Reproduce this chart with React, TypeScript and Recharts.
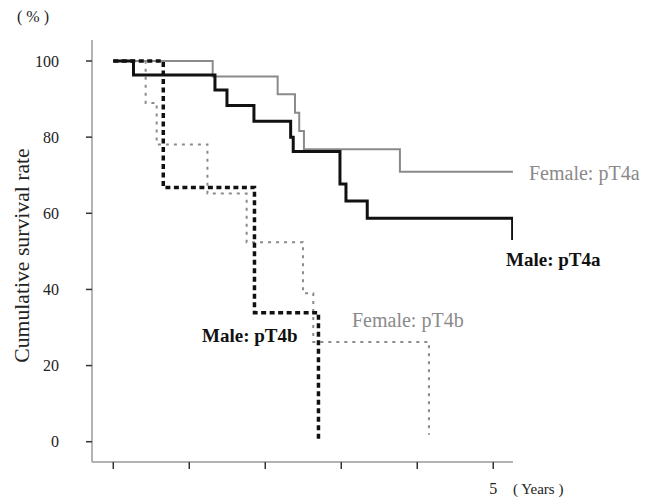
import React from 'react';
import { LineChart, Line, XAxis, YAxis } from 'recharts';

// Kaplan–Meier step data (years, cumulative survival %)
const maleT4aYears = [0, 0.266, 1.338, 1.496, 1.851, 2.334, 2.368, 2.983, 3.062, 3.342, 5.255];
const maleT4aSurvival = [100, 96.3, 92.4, 88.3, 84.2, 80.0, 76.2, 67.7, 63.2, 58.7, 53.0];

const femaleT4aYears = [0, 1.308, 2.163, 2.391, 2.447, 2.509, 3.772, 5.259];
const femaleT4aSurvival = [100, 95.9, 91.25, 86.4, 81.6, 76.8, 70.9, 70.9];

const maleT4bYears = [0, 0.658, 1.858, 2.7];
const maleT4bSurvival = [100, 66.8, 33.9, 0];

const femaleT4bYears = [0, 0.426, 0.571, 1.239, 1.755, 2.496, 2.632, 4.154];
const femaleT4bSurvival = [100, 89.0, 78.1, 65.2, 52.4, 39.0, 26.2, 1.8];

const xTicks = [0, 1, 2, 3, 4, 5];
const xTickLabels = ['', '', '', '', '', '5'];
const yTicks = [0, 20, 40, 60, 80, 100];

const seriesLabels = {
  femaleT4a: 'Female: pT4a',
  maleT4a: 'Male: pT4a',
  maleT4b: 'Male: pT4b',
  femaleT4b: 'Female: pT4b',
};

const toPoints = (years: number[], surv: number[]) =>
  years.map((t, i) => ({ t, s: surv[i] }));

const FONT = '"Liberation Serif", "Times New Roman", serif';
const GRAY = '#8a8a8a';

export default function App() {
  return (
    <div style={{ position: 'absolute', left: 0, top: 0 }}>
      <LineChart
        width={656}
        height={497}
        margin={{ top: 40, right: 143, left: 0, bottom: 0 }}
        style={{ fontFamily: FONT }}
      >
        <XAxis
          dataKey="t"
          type="number"
          domain={[-0.28, 5.26]}
          allowDataOverflow
          ticks={xTicks}
          interval={0}
          tickFormatter={(v: number) => xTickLabels[xTicks.indexOf(v)] ?? ''}
          tickSize={7}
          tickMargin={14}
          height={35}
          axisLine={{ stroke: '#9a9a9a', strokeWidth: 1.5 }}
          tickLine={{ stroke: '#333', strokeWidth: 1.5 }}
          tick={{ fontSize: 16, fill: '#222', fontFamily: FONT }}
        />
        <YAxis
          type="number"
          domain={[-5.33, 105.52]}
          allowDataOverflow
          ticks={yTicks}
          interval={0}
          width={92}
          tickSize={6}
          tickMargin={27}
          axisLine={{ stroke: '#9a9a9a', strokeWidth: 1.5 }}
          tickLine={{ stroke: '#333', strokeWidth: 1.5 }}
          tick={{ fontSize: 16, fill: '#222', fontFamily: FONT }}
        />
        <Line
          data={toPoints(femaleT4aYears, femaleT4aSurvival)}
          dataKey="s"
          type="stepAfter"
          stroke={GRAY}
          strokeWidth={2}
          dot={false}
          isAnimationActive={false}
        />
        <Line
          data={toPoints(femaleT4bYears, femaleT4bSurvival)}
          dataKey="s"
          type="stepAfter"
          stroke={GRAY}
          strokeWidth={2}
          strokeDasharray="3 5"
          dot={false}
          isAnimationActive={false}
        />
        <Line
          data={toPoints(maleT4aYears, maleT4aSurvival)}
          dataKey="s"
          type="stepAfter"
          stroke="#111"
          strokeWidth={3}
          dot={false}
          isAnimationActive={false}
        />
        <Line
          data={toPoints(maleT4bYears, maleT4bSurvival)}
          dataKey="s"
          type="stepAfter"
          stroke="#111"
          strokeWidth={3.5}
          strokeDasharray="5 3.5"
          dot={false}
          isAnimationActive={false}
        />
        <text x={17} y={22} fontSize={16} fill="#222" fontFamily={FONT}>( % )</text>
        <text
          x={29}
          y={255.5}
          transform="rotate(-90 29 255.5)"
          textAnchor="middle"
          fontSize={21.7}
          fill="#222"
          fontFamily={FONT}
        >
          Cumulative survival rate
        </text>
        <text x={513} y={494} fontSize={15} fill="#222" fontFamily={FONT}>( Years )</text>
        <text x={529} y={180} fontSize={20} fill={GRAY} fontFamily={FONT}>{seriesLabels.femaleT4a}</text>
        <text x={506} y={265.5} fontSize={19} fontWeight="bold" fill="#111" fontFamily={FONT}>{seriesLabels.maleT4a}</text>
        <text x={202} y={341.5} fontSize={19} fontWeight="bold" fill="#111" fontFamily={FONT}>{seriesLabels.maleT4b}</text>
        <text x={352} y={327.3} fontSize={20} fill={GRAY} fontFamily={FONT}>{seriesLabels.femaleT4b}</text>
      </LineChart>
    </div>
  );
}
